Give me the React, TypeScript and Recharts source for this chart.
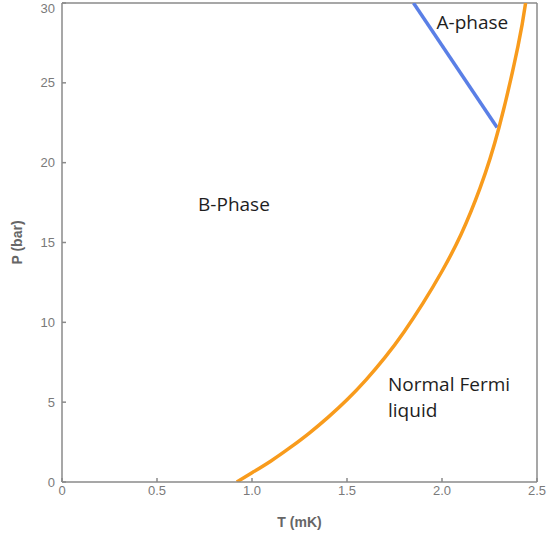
import {
  Label,
  Line,
  LineChart,
  ReferenceDot,
  ReferenceLine,
  XAxis,
  YAxis,
} from 'recharts'

// Normal / superfluid boundary (T in mK, P in bar)
const normalT = [0.92, 1.0, 1.1, 1.2, 1.3, 1.4, 1.5, 1.6, 1.7, 1.8, 1.9, 2.0, 2.1, 2.2, 2.3, 2.4, 2.44]
const normalP = [0, 0.58, 1.32, 2.15, 3.05, 4.05, 5.15, 6.4, 7.8, 9.4, 11.2, 13.2, 15.5, 18.4, 22.2, 27.3, 30]

// A / B boundary
const abT = [1.85, 2.29]
const abP = [30, 22.2]

const xTicks = [0, 0.5, 1.0, 1.5, 2.0, 2.5]
const yTicks = [0, 5, 10, 15, 20, 25, 30]

const normalLine = normalT.map((T, i) => ({ T, P: normalP[i] }))
const abLine = abT.map((T, i) => ({ T, P: abP[i] }))

const axisGray = '#8a8a8a'
const tickStyle = { fontSize: 13, fill: '#7a7a7a', fontFamily: 'Liberation Sans, Arial, sans-serif' }
const regionFont = 'Open Sans, Noto Sans, sans-serif'

function regionLabel(lines: string[], anchor: 'start' | 'middle') {
  return (props: any) => {
    const { viewBox } = props
    const x = viewBox.x + (viewBox.width || 0) / 2
    const y = viewBox.y + (viewBox.height || 0) / 2
    return (
      <text
        x={x}
        y={y}
        textAnchor={anchor}
        fontSize={19}
        fontFamily={regionFont}
        fill="#1e1e1e"
      >
        {lines.map((l, i) => (
          <tspan key={i} x={x} dy={i === 0 ? '0.35em' : '1.4em'}>
            {l}
          </tspan>
        ))}
      </text>
    )
  }
}

export default function App() {
  return (
    <div style={{ position: 'absolute', left: 0, top: 0, background: '#fff' }}>
      <LineChart
        width={547}
        height={544}
        margin={{ top: 3, right: 10, left: 0, bottom: 0 }}
      >
        <XAxis
          type="number"
          dataKey="T"
          domain={[0, 2.5]}
          ticks={xTicks}
          tickFormatter={(v: number) => (v === 0 ? '0' : v.toFixed(1))}
          allowDataOverflow
          height={62}
          stroke={axisGray}
          strokeWidth={1.5}
          tickSize={-4}
          tickMargin={8}
          tick={tickStyle}
        >
          <Label
            content={(p: any) => (
              <text
                x={p.viewBox.x + p.viewBox.width / 2}
                y={527}
                textAnchor="middle"
                fontSize={14}
                fontWeight="bold"
                fill="#666"
                fontFamily="Liberation Sans, Arial, sans-serif"
              >
                T (mK)
              </text>
            )}
          />
        </XAxis>
        <YAxis
          type="number"
          dataKey="P"
          domain={[0, 30]}
          ticks={yTicks}
          allowDataOverflow
          width={62}
          stroke={axisGray}
          strokeWidth={1.5}
          tickSize={-4}
          tickMargin={11}
          tick={tickStyle}
        >
          <Label
            content={(p: any) => {
              const cy = p.viewBox.y + p.viewBox.height / 2
              return (
                <text
                  x={22}
                  y={cy}
                  transform={`rotate(-90 22 ${cy})`}
                  textAnchor="middle"
                  fontSize={14}
                  fontWeight="bold"
                  fill="#666"
                  fontFamily="Liberation Sans, Arial, sans-serif"
                >
                  P (bar)
                </text>
              )
            }}
          />
        </YAxis>
        <ReferenceLine y={30} stroke={axisGray} strokeWidth={1.5} />
        <ReferenceLine x={2.5} stroke={axisGray} strokeWidth={1.5} />
        <Line
          data={abLine}
          dataKey="P"
          type="linear"
          stroke="#5a7fe6"
          strokeWidth={3.5}
          dot={false}
          isAnimationActive={false}
        />
        <Line
          data={normalLine}
          dataKey="P"
          type="natural"
          stroke="#f89b1c"
          strokeWidth={3.5}
          dot={false}
          isAnimationActive={false}
        />
        <ReferenceDot x={2.16} y={28.8} r={0} fill="none" stroke="none" label={regionLabel(['A-phase'], 'middle')} />
        <ReferenceDot x={0.905} y={17.4} r={0} fill="none" stroke="none" label={regionLabel(['B-Phase'], 'middle')} />
        <ReferenceDot x={1.716} y={6.14} r={0} fill="none" stroke="none" label={regionLabel(['Normal Fermi', 'liquid'], 'start')} />
      </LineChart>
    </div>
  )
}
